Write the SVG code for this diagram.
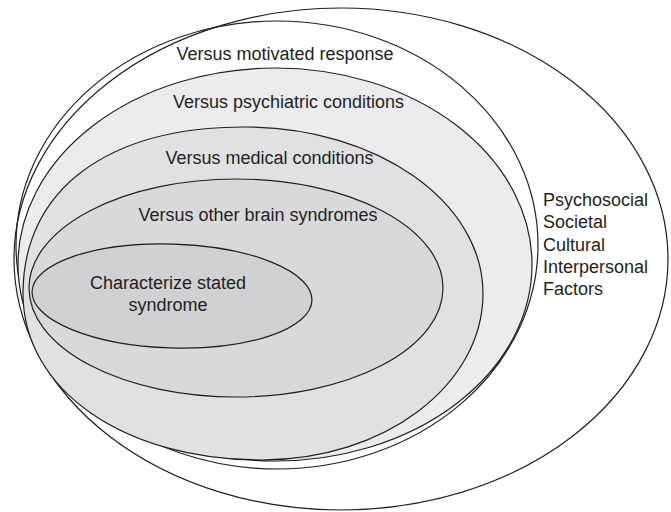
<svg xmlns="http://www.w3.org/2000/svg" width="671" height="512" viewBox="0 0 671 512">
<style>
.e{stroke:#231f20;stroke-width:1.2}
.t{font-family:"Liberation Sans",Arial,sans-serif;font-size:18px;fill:#231f20}
.m{text-anchor:middle}
</style>
<rect width="671" height="512" fill="#ffffff"/>
<g id="outer">
<ellipse class="e" cx="341" cy="259" rx="327" ry="251" fill="none"/>
<text class="t" x="543" y="206">Psychosocial</text>
<text class="t" x="543" y="228.3">Societal</text>
<text class="t" x="543" y="250.6">Cultural</text>
<text class="t" x="543" y="272.9">Interpersonal</text>
<text class="t" x="543" y="295.2">Factors</text>
</g>
<g id="motivated">
<ellipse class="e" cx="277" cy="245" rx="261" ry="224" fill="none"/>
<text class="t m" x="285" y="60">Versus motivated response</text>
</g>
<g id="psychiatric">
<ellipse class="e" cx="275" cy="264.5" rx="257" ry="196.5" fill="#ececee"/>
<text class="t m" x="288.5" y="108">Versus psychiatric conditions</text>
</g>
<g id="medical">
<path class="e" fill="#e1e1e3" d="M 23 293.5 C 23 190.3 106.7 127 245 127 C 376.4 127 483 201.6 483 293.5 C 483 385.4 384 460 262 460 C 124 460 23 390 23 293.5 Z"/>
<text class="t m" x="269.5" y="164">Versus medical conditions</text>
</g>
<g id="brain">
<ellipse class="e" cx="236" cy="288" rx="207" ry="109" fill="#d9d9db"/>
<text class="t m" x="258" y="221">Versus other brain syndromes</text>
</g>
<g id="characterize">
<ellipse class="e" cx="172" cy="296" rx="140" ry="52" fill="#d1d1d3" transform="rotate(1.8 172 296)"/>
<text class="t m" x="168" y="288.5">Characterize stated</text>
<text class="t m" x="168" y="311">syndrome</text>
</g>
<g id="connectors"></g>
</svg>
